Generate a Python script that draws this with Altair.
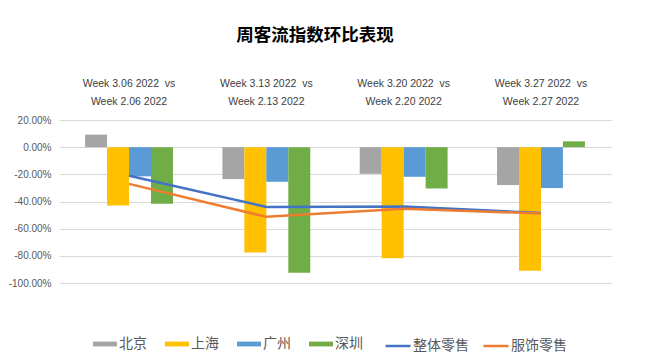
import altair as alt
import pandas as pd

groups = ["Week 3.06 2022 \u00a0vs|Week 2.06 2022",
          "Week 3.13 2022 \u00a0vs|Week 2.13 2022",
          "Week 3.20 2022 \u00a0vs|Week 2.20 2022",
          "Week 3.27 2022 \u00a0vs|Week 2.27 2022"]
cities = ["北京", "上海", "广州", "深圳"]
beijing = [0.092, -0.235, -0.196, -0.279]
shanghai = [-0.430, -0.776, -0.818, -0.909]
guangzhou = [-0.215, -0.255, -0.218, -0.301]
shenzhen = [-0.417, -0.924, -0.304, 0.043]
series = ["整体零售", "服饰零售"]
overall = [-0.210, -0.440, -0.437, -0.485]
apparel = [-0.270, -0.513, -0.454, -0.488]

bar_colors = ["#A5A5A5", "#FFC000", "#5B9BD5", "#70AD47"]
line_colors = ["#4472C4", "#ED7D31"]
y_ticks = [0.2, 0.0, -0.2, -0.4, -0.6, -0.8, -1.0]

bar_rows = []
for i, g in enumerate(groups):
    for c, vals in zip(cities, [beijing, shanghai, guangzhou, shenzhen]):
        bar_rows.append({"group": g, "city": c, "value": vals[i]})
line_rows = []
for i, g in enumerate(groups):
    for s, vals in zip(series, [overall, apparel]):
        line_rows.append({"group": g, "series": s, "value": vals[i]})
bar_df = pd.DataFrame(bar_rows)
line_df = pd.DataFrame(line_rows)

x_enc = alt.X("group:N", sort=groups, title=None,
              scale=alt.Scale(paddingInner=0.36, paddingOuter=0.19),
              axis=alt.Axis(orient="top", labelExpr="split(datum.label, '|')",
                            ticks=False, domain=False, labelAngle=0,
                            labelFont="Liberation Sans", labelFontSize=10.5,
                            labelColor="#404040", labelPadding=32,
                            labelLineHeight=18, minExtent=50, maxExtent=50))
y_enc = alt.Y("value:Q", title=None,
              scale=alt.Scale(domain=[-1.0, 0.2], nice=False),
              axis=alt.Axis(values=y_ticks, ticks=False, domain=False,
                            labelExpr="replace(format(datum.value, '.2%'), '−', '-')",
                            labelFont="Liberation Sans", labelFontSize=10,
                            labelColor="#595959", labelPadding=8,
                            gridColor="#D9D9D9", gridWidth=1,
                            minExtent=45, maxExtent=45))

bars = alt.Chart(bar_df).mark_bar().encode(
    x=x_enc,
    xOffset=alt.XOffset("city:N", sort=cities,
                        scale=alt.Scale(paddingInner=0, paddingOuter=0)),
    y=y_enc,
    color=alt.Color("city:N", sort=cities,
                    scale=alt.Scale(domain=cities, range=bar_colors),
                    legend=alt.Legend(orient="none", direction="horizontal",
                                      legendX=34, legendY=212,
                                      title=None,
                                      symbolType="M-1,-0.2H1V0.2H-1Z",
                                      symbolSize=576, symbolStrokeWidth=0,
                                      symbolOpacity=1,
                                      labelFont="Noto Sans CJK SC",
                                      labelFontSize=14, labelColor="#595959",
                                      columnPadding=18, labelOffset=2)),
)

lines = alt.Chart(line_df).mark_line(strokeWidth=2.5).encode(
    x=x_enc,
    y=y_enc,
    stroke=alt.Stroke("series:N", sort=series,
                      scale=alt.Scale(domain=series, range=line_colors),
                      legend=alt.Legend(orient="none", direction="horizontal",
                                        legendX=325, legendY=212,
                                        title=None, symbolType="stroke",
                                        symbolSize=625, symbolStrokeWidth=2.5,
                                        labelFont="Noto Sans CJK SC",
                                        labelFontSize=14, labelColor="#595959",
                                        columnPadding=9, labelOffset=1)),
)

chart = alt.layer(bars, lines).properties(
    width=552, height=163,
    title=alt.TitleParams("周客流指数环比表现", font="Noto Sans CJK SC",
                          fontSize=17.5, fontWeight="bold", color="#000000",
                          anchor="middle", offset=26, dx=-20),
    padding={"left": 0, "top": 18, "right": 10, "bottom": 5},
    background="#FFFFFF",
).configure_view(stroke=None)

chart.save("out.html", embed_options={"renderer": "svg", "actions": False})
